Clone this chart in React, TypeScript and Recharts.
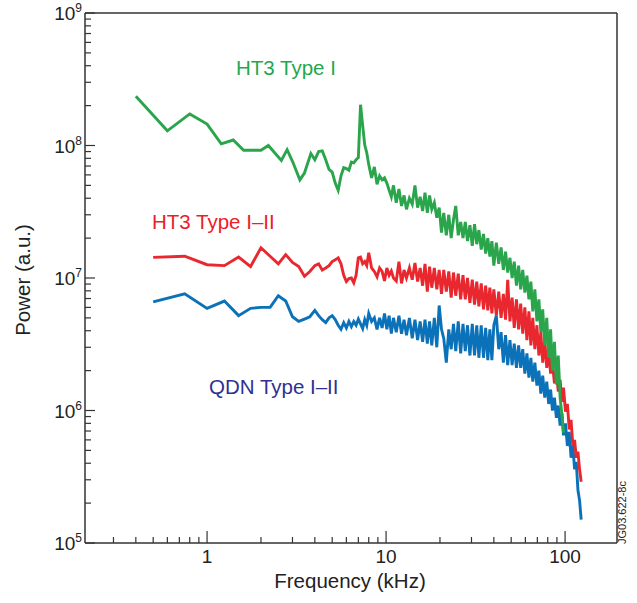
import React from 'react';
import { LineChart, Line, XAxis, YAxis, ReferenceLine } from 'recharts';

// low-frequency samples (coarse spacing at the start of each spectrum)
const greenLowFreq = [0.4, 0.6, 0.8, 1.0, 1.2, 1.4, 1.6, 1.8, 2.0, 2.2, 2.6, 2.8, 3.0, 3.3, 3.5, 3.8];
const rbLowFreq = [0.5, 0.75, 1.0, 1.25, 1.5, 1.75, 2.0, 2.25, 2.5, 2.75, 3.0, 3.25, 3.5, 3.75];

// shared frequency grid for the dense part (kHz)
const highFreq = [
  4.0, 4.2, 4.4, 4.6, 4.8, 5.0, 5.2, 5.4, 5.6, 5.8,
  6.0, 6.2, 6.4, 6.6, 6.8, 7.0, 7.2, 7.4, 7.6, 7.8,
  8.0, 8.3, 8.6, 8.9, 9.2, 9.5, 9.8, 10.1, 10.4, 10.7,
  11.0, 11.4, 11.8, 12.2, 12.6, 13.0, 13.5, 14.0, 14.5, 15.0,
  15.5, 16.0, 16.5, 17.0, 17.5, 18.0, 18.6, 19.2, 19.8, 20.4,
  21.0, 21.7, 22.4, 23.1, 23.8, 24.5, 25.3, 26.1, 26.9, 27.7,
  28.5, 29.4, 30.3, 31.2, 32.1, 33.0, 34.0, 35.0, 36.0, 37.0,
  38.0, 39.0, 40.0, 41.3, 42.6, 43.9, 45.2, 46.5, 47.8, 49.2,
  50.6, 52.0, 53.5, 55.0, 56.5, 58.0, 59.6, 61.2, 62.8, 64.4,
  66.0, 67.8, 69.6, 71.4, 73.2, 75.0, 77.0, 79.0, 81.0, 83.0,
  85.0, 87.2, 89.4, 91.6, 93.8, 96.0, 98.0, 100.5, 103, 105.5,
  108, 110.5, 113, 115.5, 118, 120.5, 123,
];

// HT3 Type I
const greenLow = [2.35e8, 1.29e8, 1.73e8, 1.45e8, 1.03e8, 1.1e8, 9.2e7, 9.2e7, 9.2e7, 1.0e8, 7.7e7, 9.3e7, 7.6e7, 5.5e7, 6.2e7, 8.7e7];
const greenHigh = [
  7.8e7, 9.0e7, 9.1e7, 7.8e7, 6.6e7, 6.3e7, 5.2e7, 4.6e7, 5.9e7, 6.8e7,
  6.7e7, 6.5e7, 7.5e7, 7.4e7, 7.8e7, 8.1e7, 2.03e8, 1.41e8, 1.01e8, 8.8e7,
  7.2e7, 5.7e7, 6.9e7, 5.1e7, 5.9e7, 5.5e7, 5.7e7, 5.2e7, 4.6e7, 4.1e7,
  5.0e7, 3.7e7, 4.7e7, 3.5e7, 4.2e7, 3.3e7, 4.0e7, 3.6e7, 5.0e7, 3.4e7,
  4.1e7, 3.2e7, 4.4e7, 3.1e7, 4.2e7, 3.3e7, 3.7e7, 2.85e7, 3.4e7, 2.2e7,
  3.1e7, 2.1e7, 3.0e7, 2.0e7, 2.75e7, 3.5e7, 2.1e7, 2.65e7, 2.0e7, 2.65e7,
  1.9e7, 2.5e7, 1.75e7, 2.55e7, 1.8e7, 2.3e7, 1.64e7, 2.15e7, 1.53e7, 2.0e7,
  1.45e7, 1.9e7, 1.24e7, 1.85e7, 1.28e7, 1.7e7, 1.15e7, 1.58e7, 1.1e7, 1.42e7,
  1.0e7, 1.33e7, 8.75e6, 1.24e7, 8.2e6, 1.15e7, 7.75e6, 1.04e7, 6.9e6, 9.4e6,
  5.6e6, 8.2e6, 4.7e6, 6.9e6, 3.9e6, 5.8e6, 3.1e6, 5.0e6, 2.5e6, 4.1e6,
  2.0e6, 3.3e6, 1.57e6, 2.6e6, 1.25e6, 9.3e5, 6.8e5,
];

// HT3 Type I-II
const redLow = [1.43e7, 1.46e7, 1.26e7, 1.24e7, 1.44e7, 1.22e7, 1.69e7, 1.46e7, 1.28e7, 1.5e7, 1.31e7, 1.22e7, 1.03e7, 1.12e7];
const redHigh = [
  1.24e7, 1.28e7, 1.15e7, 1.19e7, 1.24e7, 1.33e7, 1.37e7, 1.42e7, 1.28e7, 1.05e7,
  9.4e6, 9.9e6, 1.0e7, 9.2e6, 1.05e7, 1.42e7, 1.44e7, 1.28e7, 1.33e7, 1.24e7,
  1.55e7, 1.19e7, 1.12e7, 1.02e7, 1.19e7, 1.12e7, 9.5e6, 1.19e7, 1.05e7, 1.13e7,
  1.0e7, 9.5e6, 1.33e7, 9.1e6, 1.15e7, 1.0e7, 1.19e7, 9.7e6, 1.3e7, 9.4e6,
  1.19e7, 8.75e6, 1.28e7, 7.9e6, 1.22e7, 8.45e6, 1.19e7, 8.2e6, 1.15e7, 7.6e6,
  1.15e7, 7.9e6, 1.12e7, 7.1e6, 1.1e7, 7.35e6, 1.08e7, 6.9e6, 1.05e7, 6.9e6,
  1.0e7, 6.5e6, 9.7e6, 6.3e6, 9.4e6, 6.1e6, 9.1e6, 5.8e6, 8.75e6, 5.7e6,
  8.45e6, 5.4e6, 8.2e6, 5.2e6, 7.9e6, 5.0e6, 7.6e6, 4.85e6, 9.7e6, 4.7e6,
  7.1e6, 4.2e6, 6.9e6, 4.1e6, 6.4e6, 3.8e6, 6.0e6, 3.4e6, 5.6e6, 3.1e6,
  5.0e6, 2.9e6, 4.4e6, 2.6e6, 3.9e6, 2.3e6, 3.4e6, 2.1e6, 2.9e6, 1.9e6,
  2.3e6, 1.6e6, 1.96e6, 1.39e6, 1.7e6, 1.16e6, 1.49e6, 9.8e5, 1.12e6, 7.2e5,
  8.5e5, 5.4e5, 6.0e5, 4.4e5, 4.9e5, 3.6e5, 2.9e5,
];

// QDN Type I-II
const blueLow = [6.6e6, 7.6e6, 5.9e6, 6.7e6, 5.2e6, 5.9e6, 6.0e6, 6.0e6, 7.35e6, 6.7e6, 5.1e6, 4.7e6, 4.9e6, 5.1e6];
const blueHigh = [
  5.7e6, 5.2e6, 4.85e6, 4.6e6, 5.0e6, 5.2e6, 4.85e6, 4.4e6, 4.1e6, 4.6e6,
  4.2e6, 4.7e6, 4.3e6, 4.7e6, 4.4e6, 4.9e6, 4.5e6, 4.15e6, 4.85e6, 4.4e6,
  5.4e6, 4.7e6, 5.0e6, 4.1e6, 5.0e6, 4.2e6, 5.4e6, 4.1e6, 5.2e6, 3.8e6,
  5.0e6, 3.9e6, 5.2e6, 3.8e6, 4.85e6, 3.7e6, 5.0e6, 3.5e6, 4.85e6, 3.4e6,
  4.7e6, 3.3e6, 4.85e6, 3.2e6, 4.7e6, 3.1e6, 5.0e6, 3.0e6, 6.2e6, 4.1e6,
  3.5e6, 2.3e6, 4.1e6, 2.9e6, 4.5e6, 2.8e6, 4.7e6, 2.7e6, 4.5e6, 2.8e6,
  4.4e6, 2.6e6, 4.5e6, 2.6e6, 4.4e6, 2.5e6, 4.4e6, 2.5e6, 4.2e6, 2.4e6,
  4.1e6, 2.4e6, 4.4e6, 5.2e6, 2.9e6, 3.9e6, 2.3e6, 3.7e6, 2.2e6, 3.4e6,
  2.2e6, 3.2e6, 2.1e6, 3.1e6, 2.1e6, 2.9e6, 1.9e6, 2.7e6, 1.77e6, 2.5e6,
  1.65e6, 2.3e6, 1.54e6, 2.0e6, 1.34e6, 1.83e6, 1.25e6, 1.65e6, 1.12e6, 1.44e6,
  1.0e6, 1.25e6, 8.8e5, 1.09e6, 7.7e5, 9.5e5, 6.5e5, 8.0e5, 5.4e5, 6.9e5,
  4.4e5, 5.4e5, 3.6e5, 4.1e5, 2.5e5, 2.1e5, 1.5e5,
];

const xTicks = [0.3, 0.4, 0.5, 0.6, 0.7, 0.8, 0.9, 1, 2, 3, 4, 5, 6, 7, 8, 9, 10, 20, 30, 40, 50, 60, 70, 80, 90, 100];
const yTicks = [
  1e5, 2e5, 3e5, 4e5, 5e5, 6e5, 7e5, 8e5, 9e5,
  1e6, 2e6, 3e6, 4e6, 5e6, 6e6, 7e6, 8e6, 9e6,
  1e7, 2e7, 3e7, 4e7, 5e7, 6e7, 7e7, 8e7, 9e7,
  1e8, 2e8, 3e8, 4e8, 5e8, 6e8, 7e8, 8e8, 9e8, 1e9,
];

const toPoints = (freqs: number[], powers: number[]) => powers.map((p, i) => ({ f: freqs[i], p }));

const greenData = [...toPoints(greenLowFreq, greenLow), ...toPoints(highFreq, greenHigh)];
const redData = [...toPoints(rbLowFreq, redLow), ...toPoints(highFreq, redHigh)];
const blueData = [...toPoints(rbLowFreq, blueLow), ...toPoints(highFreq, blueHigh)];

const FONT = '"Liberation Sans", Arial, Helvetica, sans-serif';
const AXIS = '#333';
const TEXT = '#222';

const isDecade = (v: number) => Math.abs(Math.log10(v) - Math.round(Math.log10(v))) < 1e-6;

const XTick = ({ x, y, payload }: any) => {
  const major = isDecade(payload.value);
  return (
    <g>
      <line x1={x} x2={x} y1={y} y2={y - (major ? 12 : 6)} stroke={AXIS} strokeWidth={1.2} />
      {major && (
        <text x={x} y={y + 20} textAnchor="middle" fontSize={19} fontFamily={FONT} fill={TEXT}>
          {payload.value}
        </text>
      )}
    </g>
  );
};

const YTick = ({ x, y, payload }: any) => {
  const major = isDecade(payload.value);
  const exp = Math.round(Math.log10(payload.value));
  return (
    <g>
      <line x1={x} x2={x + (major ? 10 : 6)} y1={y} y2={y} stroke={AXIS} strokeWidth={1.2} />
      {major && (
        <text x={x - 3} y={y + 7} textAnchor="end" fontSize={19} fontFamily={FONT} fill={TEXT}>
          10
          <tspan fontSize={12} dy={-8}>{exp}</tspan>
        </text>
      )}
    </g>
  );
};

export default function App() {
  return (
    <div style={{ position: 'relative', width: 637, height: 603, background: '#fff' }}>
      <style>{'body{margin:0}'}</style>
      <LineChart width={637} height={603} margin={{ top: 13, right: 20, bottom: 0, left: 0 }}>
        <XAxis
          dataKey="f"
          type="number"
          scale="log"
          domain={[0.208, 195]}
          allowDataOverflow
          ticks={xTicks}
          interval={0}
          tick={<XTick />}
          tickSize={0}
          tickMargin={0}
          height={60}
          axisLine={{ stroke: AXIS, strokeWidth: 1.5 }}
        />
        <YAxis
          type="number"
          scale="log"
          domain={[1e5, 1e9]}
          allowDataOverflow
          ticks={yTicks}
          interval={0}
          tick={<YTick />}
          tickSize={0}
          tickMargin={0}
          width={85}
          axisLine={{ stroke: AXIS, strokeWidth: 1.5 }}
        />
        <ReferenceLine y={1e9} stroke={AXIS} strokeWidth={1.5} />
        <ReferenceLine x={195} stroke={AXIS} strokeWidth={1.5} />
        <Line data={blueData} dataKey="p" type="linear" stroke="#0b72b9" strokeWidth={2.9} dot={false} isAnimationActive={false} />
        <Line data={redData} dataKey="p" type="linear" stroke="#e8282e" strokeWidth={2.9} dot={false} isAnimationActive={false} />
        <Line data={greenData} dataKey="p" type="linear" stroke="#2aa54b" strokeWidth={2.9} dot={false} isAnimationActive={false} />
      </LineChart>
      <svg
        width={637}
        height={603}
        style={{ position: 'absolute', left: 0, top: 0, pointerEvents: 'none' }}
        fontFamily={FONT}
      >
        <text x={236} y={75} fontSize={20.5} fill="#1fa84d">HT3 Type I</text>
        <text x={152} y={229} fontSize={20.5} fill="#ec2029">HT3 Type I–II</text>
        <text x={209} y={394} fontSize={20.5} fill="#2e3192">QDN Type I–II</text>
        <text x={350} y={588} fontSize={20.5} fill={TEXT} textAnchor="middle">Frequency (kHz)</text>
        <text x={30} y={280} fontSize={20.5} fill={TEXT} textAnchor="middle" transform="rotate(-90 30 280)">
          Power (a.u.)
        </text>
        <text x={626} y={544} fontSize={11} fill={TEXT} transform="rotate(-90 626 544)">JG03.622-8c</text>
      </svg>
    </div>
  );
}
